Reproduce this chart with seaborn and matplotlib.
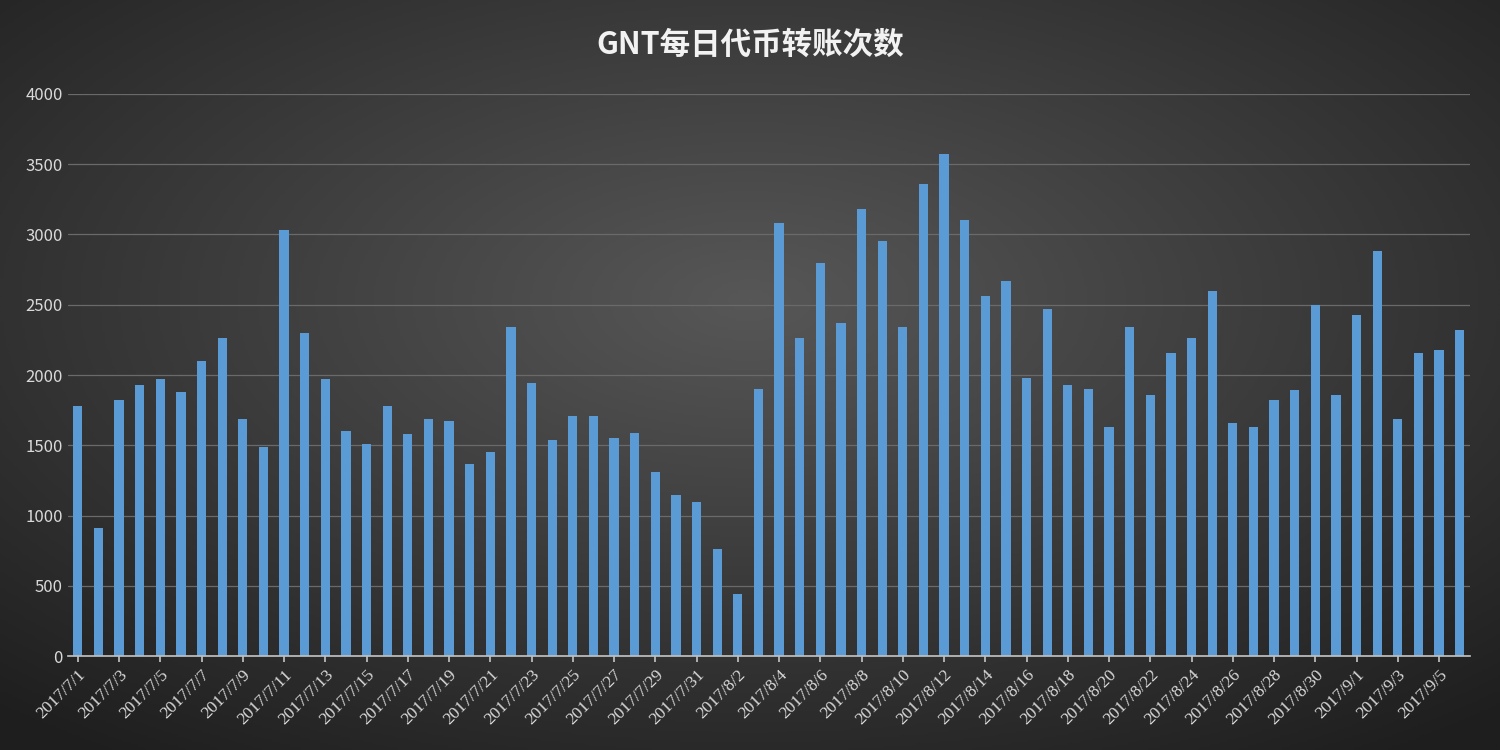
import numpy as np
import pandas as pd
import matplotlib
matplotlib.use('Agg')
import matplotlib.pyplot as plt
import seaborn as sns

# daily transfer counts, 2017/7/1 .. 2017/9/6
july = [1780, 910, 1820, 1930, 1970, 1880, 2100, 2260, 1690, 1490, 3030, 2300, 1970, 1600, 1510, 1780,
        1580, 1690, 1670, 1370, 1450, 2340, 1940, 1540, 1710, 1710, 1550, 1590, 1310, 1150, 1100]
august = [760, 440, 1900, 3080, 2260, 2800, 2370, 3180, 2950, 2340, 3360, 3570, 3100, 2560, 2670, 1980,
          2470, 1930, 1900, 1630, 2340, 1860, 2160, 2260, 2600, 1660, 1630, 1820, 1890, 2500, 1860]
september = [2430, 2880, 1690, 2160, 2180, 2320]

dates = ([f'2017/7/{d}' for d in range(1, 32)] + [f'2017/8/{d}' for d in range(1, 32)]
         + [f'2017/9/{d}' for d in range(1, 7)])
df = pd.DataFrame({'date': dates, 'count': july + august + september})

sns.set_theme(style='dark')
plt.rcParams['font.family'] = ['Noto Sans CJK SC', 'DejaVu Sans']

fig = plt.figure(figsize=(15, 7.5), dpi=100)
# radial gradient background
bg = fig.add_axes([0, 0, 1, 1], zorder=-1)
yy, xx = np.mgrid[-1:1:300j, -1:1:600j]
r = np.sqrt(xx ** 2 + (yy - 0.2) ** 2)
bg.imshow(r, cmap=matplotlib.colors.LinearSegmentedColormap.from_list('g', ['#575757', '#1e1e1e']),
          aspect='auto', extent=[0, 1, 0, 1], vmin=0, vmax=1.5, origin='lower')
bg.axis('off')

ax = fig.add_axes([0.045, 0.125, 0.935, 0.75])
ax.patch.set_alpha(0)
sns.barplot(data=df, x='date', y='count', color='#5b9bd5', saturation=1, width=0.45,
            edgecolor='none', linewidth=0, ax=ax)
ax.set_ylim(0, 4000)
ax.set_yticks(range(0, 4001, 500))
ax.yaxis.grid(True, color='#6a6a6a', linewidth=0.9)
ax.set_axisbelow(True)
ax.set_xlim(-0.5, len(df) - 0.5)
ax.set_xticks(range(0, len(df), 2))
ax.set_xticklabels(df['date'][::2], rotation=45, ha='right', rotation_mode='anchor')
for lbl in ax.get_xticklabels():
    lbl.set_family('Liberation Serif')
    lbl.set_fontsize(12.5)
    lbl.set_color('#d9d9d9')
ax.tick_params(axis='y', colors='#d9d9d9', labelsize=12, length=0)
ax.tick_params(axis='x', length=4, color='#bfbfbf', bottom=True)
ax.set_xlabel('')
ax.set_ylabel('')
for s in ['top', 'right', 'left']:
    ax.spines[s].set_visible(False)
ax.spines['bottom'].set_color('#bfbfbf')
fig.text(0.5, 0.94, 'GNT每日代币转账次数', ha='center', va='center', fontsize=22,
         color='#f2f2f2', fontweight='bold')
fig.savefig('out.png', dpi=100)
